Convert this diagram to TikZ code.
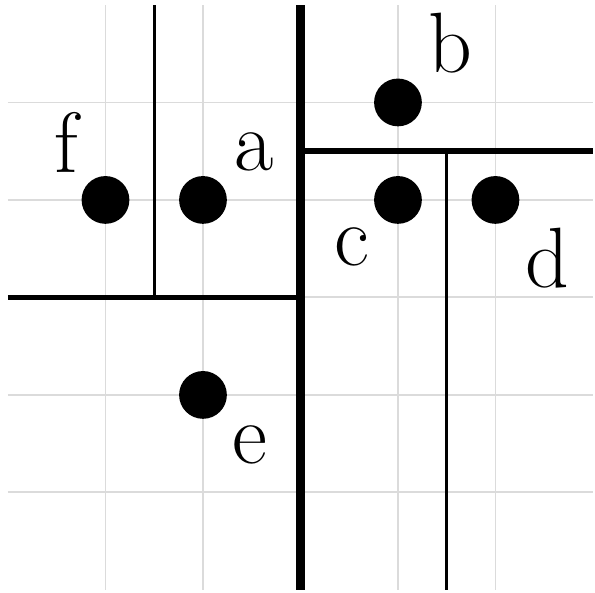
\documentclass[tikz,border=0pt]{standalone}
\usepackage{tikz}

\begin{document}
\begin{tikzpicture}[x=1cm, y=1cm, line cap=butt,
    gridline/.style={draw=gray!28, line width=0.55pt},
    cutA/.style={line width=2.4pt},
    cutB/.style={line width=1.7pt},
    cutC/.style={line width=1.0pt},
    pt/.style={circle, fill=black, inner sep=0pt, minimum size=0.49cm},
    lbl/.style={inner sep=0pt, font=\fontsize{25}{30}\selectfont}]

  %% grid
  \foreach \i in {1,...,5} {
    \draw[gridline] (\i,0) -- (\i,6);
    \draw[gridline] (0,\i) -- (6,\i);
  }

  %% splitting lines
  \draw[cutA] (3,0) -- (3,6);
  \draw[cutB] (0,3) -- (3,3);
  \draw[cutC] (1.5,3) -- (1.5,6);
  \draw[cutB] (3,4.5) -- (6,4.5);
  \draw[cutC] (4.5,0) -- (4.5,4.5);

  %% points
  \node[pt] (f) at (1,4) {};
  \node[pt] (a) at (2,4) {};
  \node[pt] (b) at (4,5) {};
  \node[pt] (c) at (4,4) {};
  \node[pt] (d) at (5,4) {};
  \node[pt] (e) at (2,2) {};

  %% labels
  \node[lbl] (lf) at (0.60,4.59) {f};
  \node[lbl] (la) at (2.52,4.49) {a};
  \node[lbl] (lb) at (4.54,5.61) {b};
  \node[lbl] (lc) at (3.53,3.52) {c};
  \node[lbl] (ld) at (5.53,3.40) {d};
  \node[lbl] (le) at (2.48,1.49) {e};

  \pgfresetboundingbox
  \path[use as bounding box] (-0.082,-0.031) rectangle (6.021,6.051);
\end{tikzpicture}
\end{document}
